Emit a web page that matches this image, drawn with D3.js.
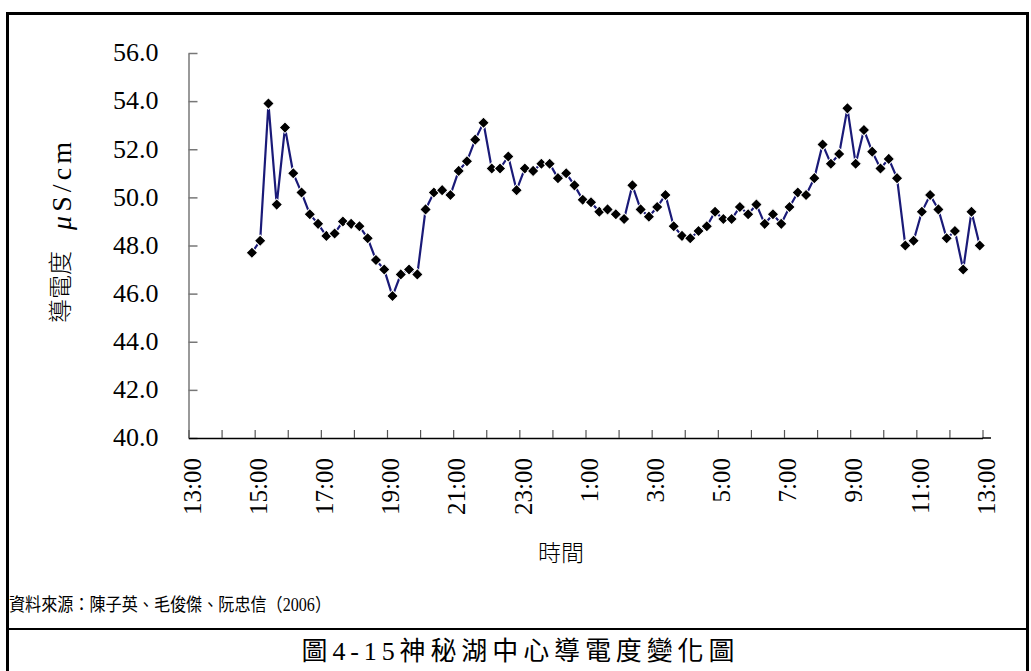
<!DOCTYPE html>
<html>
<head>
<meta charset="utf-8" />
<title>神秘湖中心導電度變化圖</title>
<script src="https://d3js.org/d3.v7.min.js"></script>
<style>
  body { margin: 0; background: #fff; }
  svg text { font-family: "Liberation Serif", "Noto Sans CJK TC", serif; fill: #000; }
</style>
</head>
<body>
<div id="chart"></div>
<script>
// measurement times (every 15 min, 14:55 to 12:55 next day)
const times = [
  "14:55",
  "15:10", "15:25", "15:40", "15:55",
  "16:10", "16:25", "16:40", "16:55",
  "17:10", "17:25", "17:40", "17:55",
  "18:10", "18:25", "18:40", "18:55",
  "19:10", "19:25", "19:40", "19:55",
  "20:10", "20:25", "20:40", "20:55",
  "21:10", "21:25", "21:40", "21:55",
  "22:10", "22:25", "22:40", "22:55",
  "23:10", "23:25", "23:40", "23:55",
  "0:10", "0:25", "0:40", "0:55",
  "1:10", "1:25", "1:40", "1:55",
  "2:10", "2:25", "2:40", "2:55",
  "3:10", "3:25", "3:40", "3:55",
  "4:10", "4:25", "4:40", "4:55",
  "5:10", "5:25", "5:40", "5:55",
  "6:10", "6:25", "6:40", "6:55",
  "7:10", "7:25", "7:40", "7:55",
  "8:10", "8:25", "8:40", "8:55",
  "9:10", "9:25", "9:40", "9:55",
  "10:10", "10:25", "10:40", "10:55",
  "11:10", "11:25", "11:40", "11:55",
  "12:10", "12:25", "12:40", "12:55"
];

// conductivity (μS/cm)
const conductivity = [
  47.7, 48.2, 53.9, 49.7, 52.9, 51.0, 50.2, 49.3, 48.9, 48.4,
  48.5, 49.0, 48.9, 48.8, 48.3, 47.4, 47.0, 45.9, 46.8, 47.0,
  46.8, 49.5, 50.2, 50.3, 50.1, 51.1, 51.5, 52.4, 53.1, 51.2,
  51.2, 51.7, 50.3, 51.2, 51.1, 51.4, 51.4, 50.8, 51.0, 50.5,
  49.9, 49.8, 49.4, 49.5, 49.3, 49.1, 50.5, 49.5, 49.2, 49.6,
  50.1, 48.8, 48.4, 48.3, 48.6, 48.8, 49.4, 49.1, 49.1, 49.6,
  49.3, 49.7, 48.9, 49.3, 48.9, 49.6, 50.2, 50.1, 50.8, 52.2,
  51.4, 51.8, 53.7, 51.4, 52.8, 51.9, 51.2, 51.6, 50.8, 48.0,
  48.2, 49.4, 50.1, 49.5, 48.3, 48.6, 47.0, 49.4, 48.0
];

const yTicks = [40, 42, 44, 46, 48, 50, 52, 54, 56];
const xTickLabels = ["13:00", "15:00", "17:00", "19:00", "21:00", "23:00",
  "1:00", "3:00", "5:00", "7:00", "9:00", "11:00", "13:00"];

const sourceText = "資料來源：陳子英、毛俊傑、阮忠信（2006）";
const titleText = "圖4-15神秘湖中心導電度變化圖";

// hours after 13:00
function toHours(t) {
  const [h, m] = t.split(":").map(Number);
  let v = h + m / 60 - 13;
  if (v < 0) v += 24;
  return v;
}

const data = times.map((t, i) => ({ h: toHours(t), v: conductivity[i] }));

const width = 1031, height = 671;
const svg = d3.select("#chart").append("svg")
  .attr("width", width)
  .attr("height", height);

const x = d3.scaleLinear().domain([0, 24]).range([188.5, 982.5]);
const y = d3.scaleLinear().domain([40, 56]).range([438, 53]);

// frame
svg.append("rect")
  .attr("x", 7.5).attr("y", 13.5)
  .attr("width", 1020).attr("height", 700)
  .attr("fill", "none")
  .attr("stroke", "#000")
  .attr("stroke-width", 3);

svg.append("line")
  .attr("x1", 7.5).attr("x2", 1027.5)
  .attr("y1", 629).attr("y2", 629)
  .attr("stroke", "#000")
  .attr("stroke-width", 2);

// y axis
const yAxis = svg.append("g")
  .attr("transform", "translate(188.5,0)")
  .call(d3.axisLeft(y).tickValues(yTicks).tickSize(-9).tickSizeOuter(0)
    .tickPadding(30).tickFormat(d3.format(".1f")));
yAxis.select(".domain").attr("stroke", "#777").attr("stroke-width", 1.5);
yAxis.selectAll(".tick line").attr("stroke", "#777").attr("stroke-width", 1.5);
yAxis.selectAll(".tick text")
  .attr("font-size", 26)
  .attr("dy", "0.3em");

// x axis
const xAxis = svg.append("g")
  .attr("transform", "translate(0,438)")
  .call(d3.axisBottom(x).tickValues(d3.range(0, 25)).tickSize(-8).tickSizeOuter(0)
    .tickFormat(d => d % 2 === 0 ? xTickLabels[d / 2] : ""));
xAxis.select(".domain").attr("stroke", "#000").attr("stroke-width", 1.5);
xAxis.selectAll(".tick line").attr("stroke", "#555").attr("stroke-width", 1.2);
xAxis.selectAll(".tick text")
  .attr("font-size", 25)
  .attr("text-anchor", "end")
  .attr("y", 0)
  .attr("dy", "0.35em")
  .attr("transform", "translate(3,20) rotate(-90)");
xAxis.append("line")
  .attr("x1", x(24)).attr("x2", 991)
  .attr("stroke", "#000").attr("stroke-width", 1.5);

// series
const line = d3.line().x(d => x(d.h)).y(d => y(d.v));
svg.append("path")
  .datum(data)
  .attr("fill", "none")
  .attr("stroke", "#1a1a78")
  .attr("stroke-width", 2.2)
  .attr("d", line);

svg.append("g")
  .selectAll("path")
  .data(data)
  .join("path")
  .attr("d", d3.symbol(d3.symbolSquare, 66))
  .attr("transform", d => `translate(${x(d.h)},${y(d.v)}) rotate(45)`)
  .attr("fill", "#000")
  .attr("stroke", "#fff")
  .attr("stroke-width", 1);

// axis titles
svg.append("text")
  .attr("x", 561).attr("y", 553)
  .attr("dy", "0.35em")
  .attr("text-anchor", "middle")
  .attr("font-size", 23)
  .attr("font-family", "Noto Sans CJK TC")
  .attr("font-weight", 300)
  .text("時間");

svg.append("text")
  .attr("transform", "translate(61,287) rotate(-90)")
  .attr("dy", "0.35em")
  .attr("text-anchor", "middle")
  .attr("font-size", 24)
  .attr("font-family", "Noto Sans CJK TC")
  .attr("font-weight", 300)
  .text("導電度");

const unit = svg.append("text")
  .attr("transform", "translate(61,186) rotate(-90)")
  .attr("dy", "0.35em")
  .attr("text-anchor", "middle")
  .attr("font-size", 28)
  .attr("textLength", 88)
  .attr("lengthAdjust", "spacing");
unit.append("tspan").attr("font-style", "italic").text("μ");
unit.append("tspan").text("S/cm");

// source and caption
svg.append("text")
  .attr("x", 9).attr("y", 605)
  .attr("dy", "0.35em")
  .attr("font-size", 18)
  .attr("textLength", 322)
  .attr("lengthAdjust", "spacingAndGlyphs")
  .text(sourceText);

svg.append("text")
  .attr("x", 518).attr("y", 651)
  .attr("dy", "0.35em")
  .attr("text-anchor", "middle")
  .attr("font-size", 26)
  .attr("textLength", 433)
  .attr("lengthAdjust", "spacing")
  .text(titleText);
</script>
</body>
</html>
